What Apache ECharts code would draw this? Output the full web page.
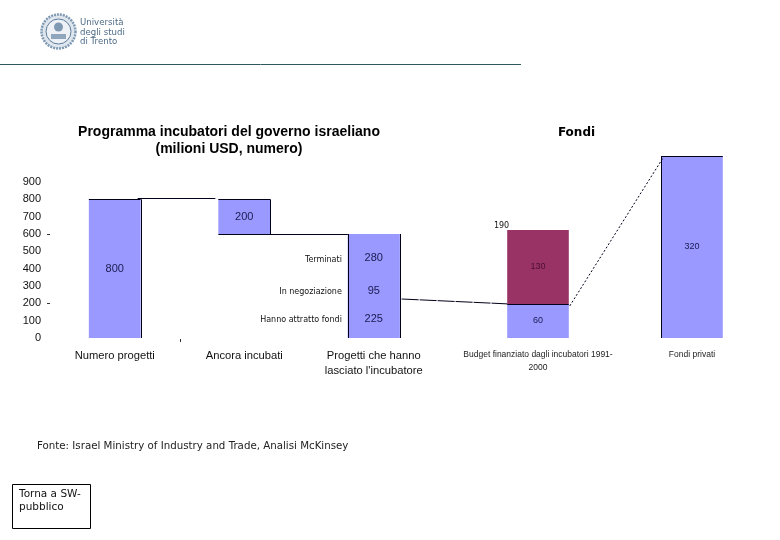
<!DOCTYPE html>
<html>
<head>
<meta charset="utf-8">
<style>html,body{margin:0;padding:0;background:#fff}#c{width:780px;height:540px}</style>
<script src="https://cdn.jsdelivr.net/npm/echarts@6/dist/echarts.min.js"></script>
</head>
<body>
<div id="c"></div>
<script>
const leftCategories = ['Numero progetti', 'Ancora incubati', "Progetti che hanno\nlasciato l'incubatore"];
const leftBase = [0, 600, 0];
const leftMain = [800, 200, 225];
const leftMiddle = [null, null, 95];
const leftTop = [null, null, 280];
const segmentNames = ['Hanno attratto fondi', 'In negoziazione', 'Terminati'];
const rightCategories = ['Budget finanziato dagli incubatori 1991-\n2000', 'Fondi privati'];
const rightMain = [60, 320];
const rightTop = [130, null];
const budgetTotal = 190;
const leftMax = 900;
const rightMax = 320;
const leftDashTicks = [600, 200];

const BLUE = '#9999FF', PURPLE = '#993366', INK = '#000000';
const ARIAL = '"Liberation Sans", Arial, sans-serif';
const VERDANA = '"DejaVu Sans", Verdana, sans-serif';

const chart = echarts.init(document.getElementById('c'), null, {renderer: 'canvas'});

const valueLabel = (size, color) => ({show: true, position: 'inside', fontFamily: ARIAL, fontSize: size, color: color});
const blueStyle = {color: BLUE};

chart.setOption({
  animation: false,
  backgroundColor: '#fff',
  title: [
    {text: 'Programma incubatori del governo israeliano\n(milioni USD, numero)', left: 224, top: 119, textAlign: 'center',
     textStyle: {fontFamily: ARIAL, fontWeight: 'bold', fontSize: 14, lineHeight: 17, color: INK}},
    {text: 'Fondi', left: 571.5, top: 122, textAlign: 'center',
     textStyle: {fontFamily: VERDANA, fontWeight: 'bold', fontSize: 12, color: INK}}
  ],
  grid: [
    {left: 50, top: 182, width: 388.5, height: 156},
    {left: 461, top: 156, width: 308, height: 182}
  ],
  xAxis: [
    {type: 'category', gridIndex: 0, data: leftCategories, axisLine: {show: false}, axisTick: {show: false},
     axisLabel: {interval: 0, margin: 10, lineHeight: 15, fontFamily: ARIAL, fontSize: 11.2, color: '#111'}},
    {type: 'category', gridIndex: 1, data: rightCategories, axisLine: {show: false}, axisTick: {show: false},
     axisLabel: {interval: 0, margin: 10, lineHeight: 13, fontFamily: ARIAL, fontSize: 8.5, color: '#222'}}
  ],
  yAxis: [
    {type: 'value', gridIndex: 0, min: 0, max: leftMax, interval: 100, splitLine: {show: false}, axisLine: {show: false}, axisTick: {show: false},
     axisLabel: {margin: 9, fontFamily: ARIAL, fontSize: 11, color: '#111'}},
    {type: 'value', gridIndex: 1, min: 0, max: rightMax, show: false, splitLine: {show: false}}
  ],
  series: [
    {name: 'base', type: 'bar', stack: 'l', xAxisIndex: 0, yAxisIndex: 0, barWidth: '40%', data: leftBase, itemStyle: {color: 'transparent'}, silent: true},
    {name: segmentNames[0], type: 'bar', stack: 'l', xAxisIndex: 0, yAxisIndex: 0, data: leftMain, itemStyle: blueStyle, label: valueLabel(11, '#1a1a50')},
    {name: segmentNames[1], type: 'bar', stack: 'l', xAxisIndex: 0, yAxisIndex: 0, data: leftMiddle, itemStyle: blueStyle, label: valueLabel(11, '#1a1a50')},
    {name: segmentNames[2], type: 'bar', stack: 'l', xAxisIndex: 0, yAxisIndex: 0, data: leftTop, itemStyle: blueStyle, label: valueLabel(11, '#1a1a50')},
    {name: 'Base fondi', type: 'bar', stack: 'r', xAxisIndex: 1, yAxisIndex: 1, barWidth: '40%', data: rightMain, itemStyle: {color: BLUE}, label: valueLabel(9, '#1a1a50')},
    {name: 'Altri fondi', type: 'bar', stack: 'r', xAxisIndex: 1, yAxisIndex: 1, data: rightTop, itemStyle: {color: PURPLE}, label: valueLabel(9, '#4a1030')}
  ]
});

// Pixel helpers: everything below is derived from the data through the axes.
const L = (i, v) => chart.convertToPixel({xAxisIndex: 0, yAxisIndex: 0}, [i, v]);
const R = (i, v) => chart.convertToPixel({xAxisIndex: 1, yAxisIndex: 1}, [i, v]);
const halfL = 388.5 / 3 * 0.4 / 2, halfR = 308 / 2 * 0.4 / 2;
const snap = v => Math.round(v) + 0.5;
const seg = (x1, y1, x2, y2, extra) => {
  if (y1 === y2) y1 = y2 = snap(y1);
  if (x1 === x2) x1 = x2 = snap(x1);
  return {type: 'line', z: 20, shape: {x1, y1, x2, y2}, style: Object.assign({stroke: '#000018', lineWidth: 1}, extra || {})};
};
const txt = (x, y, text, size, font, align, color) => ({type: 'text', z: 20, x, y, style: {text, fontSize: size, fontFamily: font, fill: color || '#111', align: align || 'left', verticalAlign: 'middle'}});

const b1 = L(0, leftMain[0]), b2t = L(1, leftBase[1] + leftMain[1]), b2b = L(1, leftBase[1]);
const b3b = L(2, leftMain[2]), b3t = L(2, leftMain[2] + leftMiddle[2] + leftTop[2]);
const r1 = R(0, rightMain[0]), r1t = R(0, budgetTotal), r2 = R(1, rightMain[1]), r2z = R(1, 0);
const zero = L(0, 0)[1];

const marks = [
  // backing under the third stacked bar, so its segments read as one block
  {type: 'rect', z: 1, shape: {x: b3t[0] - halfL, y: b3t[1], width: halfL * 2, height: zero - b3t[1]}, style: {fill: BLUE}},
  // bar edges
  seg(b1[0] - halfL, b1[1], b1[0] + halfL, b1[1]),
  seg(b1[0] + halfL, b1[1], b1[0] + halfL, zero),
  seg(b2t[0] - halfL, b2t[1], b2t[0] + halfL, b2t[1]),
  seg(b2t[0] + halfL, b2t[1], b2t[0] + halfL, b2b[1]),
  seg(b3t[0] - halfL, b3t[1], b3t[0] - halfL, zero),
  seg(b3t[0] + halfL, b3t[1], b3t[0] + halfL, zero),
  seg(r1[0] - halfR, r1[1], r1[0] + halfR, r1[1]),
  seg(r2[0] - halfR, r2[1], r2[0] + halfR, r2[1]),
  seg(r2[0] - halfR, r2[1], r2[0] - halfR, r2z[1]),
  // connectors
  seg(b1[0] + halfL - 3, b1[1] - 1, b2t[0] - halfL - 3, b1[1] - 1),
  seg(b2b[0] - halfL, b2b[1], b3t[0] - halfL, b2b[1]),
  seg(b3b[0] + halfL + 2, b3b[1], r1[0] - halfR, r1[1], {lineDash: [17, 1]}),
  seg(r1[0] + halfR + 1, r1[1] + 2, r2[0] - halfR + 3, r2[1], {lineDash: [2, 2]}),
  // stray axis mark between the first two categories
  seg((L(0, 0)[0] + L(1, 0)[0]) / 2, zero + 1, (L(0, 0)[0] + L(1, 0)[0]) / 2, zero + 4, {stroke: '#333'})
];
leftDashTicks.forEach(v => {
  const y = L(0, v)[1];
  marks.push(seg(47, y, 50, y, {stroke: '#333'}));
});

// segment captions beside the third bar
const capX = b3t[0] - halfL - 6;
marks.push(txt(capX, L(2, leftMain[2] / 2)[1] + 1.5, segmentNames[0], 8, VERDANA, 'right', '#111'));
marks.push(txt(capX, L(2, leftMain[2] + leftMiddle[2] / 2)[1] + 1, segmentNames[1], 8, VERDANA, 'right', '#111'));
marks.push(txt(capX, L(2, leftMain[2] + leftMiddle[2] + leftTop[2] / 2)[1] + 1.5, segmentNames[2], 8, VERDANA, 'right', '#111'));
marks.push(txt(r1t[0] - halfR + 2, r1t[1] - 4, String(budgetTotal), 8, VERDANA, 'right', '#111'));

// page furniture
marks.push(seg(0, 64, 521, 64, {stroke: '#2f5560'}));
marks.push(txt(37, 446.5, 'Fonte: Israel Ministry of Industry and Trade, Analisi McKinsey', 10.25, VERDANA, 'left', '#222'));
marks.push({type: 'rect', z: 20, shape: {x: 12.5, y: 484.5, width: 78, height: 44}, style: {fill: '#fff', stroke: '#000', lineWidth: 1}});
marks.push(txt(19, 494, 'Torna a SW-', 10.5, VERDANA, 'left', '#111'));
marks.push(txt(19, 507, 'pubblico', 10.5, VERDANA, 'left', '#111'));

// logo
marks.push({type: 'circle', z: 20, shape: {cx: 58.5, cy: 31.5, r: 17}, style: {fill: '#dfe6ee', stroke: '#7f99b3', lineWidth: 2.5, lineDash: [2, 1]}});
marks.push({type: 'circle', z: 20, shape: {cx: 58.5, cy: 31.5, r: 12.5}, style: {fill: '#eef2f6', stroke: '#5b7c9c', lineWidth: 1}});
marks.push({type: 'circle', z: 20, shape: {cx: 58.5, cy: 27, r: 4.5}, style: {fill: '#7f99b3', stroke: 'none'}});
marks.push({type: 'rect', z: 20, shape: {x: 51, y: 34, width: 15, height: 5}, style: {fill: '#8fa6bd', stroke: 'none'}});
marks.push(txt(80, 23, 'Università', 8.6, VERDANA, 'left', '#4e6b86'));
marks.push(txt(80, 32.5, 'degli studi', 8.6, VERDANA, 'left', '#4e6b86'));
marks.push(txt(80, 42, 'di Trento', 8.6, VERDANA, 'left', '#4e6b86'));

chart.setOption({graphic: {elements: marks}});
</script>
</body>
</html>
